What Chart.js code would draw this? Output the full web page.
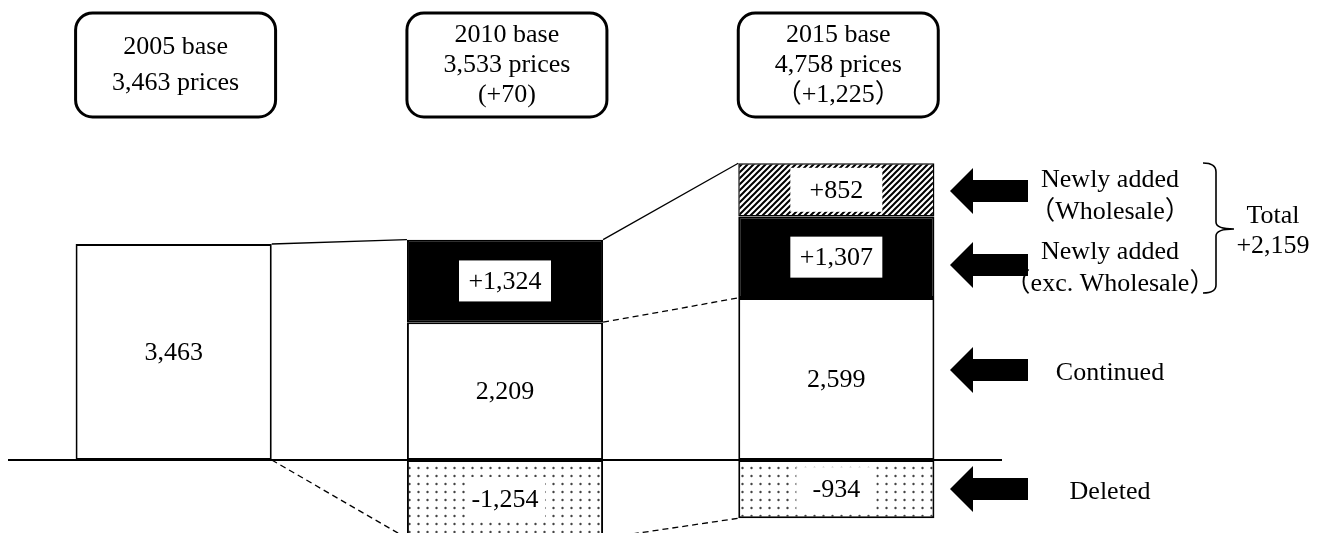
<!DOCTYPE html>
<html>
<head>
<meta charset="utf-8">
<script src="https://cdn.jsdelivr.net/npm/chart.js@4.4.0/dist/chart.umd.min.js"></script>
<style>
  html, body { margin: 0; padding: 0; background: #ffffff; }
  #wrap { width: 1328px; height: 533px; }
</style>
</head>
<body>
<div id="wrap"><canvas id="precos" width="1328" height="533"></canvas></div>
<script>
// data
const bar_labels = ["2005 base", "2010 base", "2015 base"];
const continued = [3463, 2209, 2599];
const added_exc_wholesale = [null, 1324, 1307];
const added_wholesale = [null, null, 852];
const deleted = [null, -1254, -934];

const box_texts = [
  ["2005 base", "3,463 prices"],
  ["2010 base", "3,533 prices", "(+70)"],
  ["2015 base", "4,758 prices", "（+1,225）"],
];
const note_texts = [
  ["Newly added", "（Wholesale）"],
  ["Newly added", "（exc. Wholesale）"],
  ["Continued"],
  ["Deleted"],
];
const total_texts = ["Total", "+2,159"];

const FONT = "26px 'Liberation Serif', 'Times New Roman', 'Noto Sans CJK JP', serif";

const canvas = document.getElementById("precos");
const c2d = canvas.getContext("2d");

function hatchPattern() {
  const t = document.createElement("canvas");
  t.width = 6; t.height = 6;
  const g = t.getContext("2d");
  g.fillStyle = "#fff"; g.fillRect(0, 0, 6, 6);
  g.strokeStyle = "#000"; g.lineWidth = 2;
  g.beginPath();
  g.moveTo(-1, 7); g.lineTo(7, -1);
  g.moveTo(-1, 1); g.lineTo(1, -1);
  g.moveTo(5, 7); g.lineTo(7, 5);
  g.stroke();
  return c2d.createPattern(t, "repeat");
}

function dotPattern() {
  const t = document.createElement("canvas");
  t.width = 9; t.height = 8;
  const g = t.getContext("2d");
  g.fillStyle = "#fff"; g.fillRect(0, 0, 9, 8);
  g.fillStyle = "#444";
  g.beginPath(); g.arc(4.5, 4, 1.2, 0, Math.PI * 2); g.fill();
  return c2d.createPattern(t, "repeat");
}

function roundBox(c, x, y, w, h, r) {
  c.beginPath();
  c.moveTo(x + r, y);
  c.arcTo(x + w, y, x + w, y + h, r);
  c.arcTo(x + w, y + h, x, y + h, r);
  c.arcTo(x, y + h, x, y, r);
  c.arcTo(x, y, x + w, y, r);
  c.closePath();
}

function leftArrow(c, tipX, cy) {
  c.beginPath();
  c.moveTo(tipX, cy);
  c.lineTo(tipX + 23, cy - 23);
  c.lineTo(tipX + 23, cy - 11);
  c.lineTo(tipX + 78, cy - 11);
  c.lineTo(tipX + 78, cy + 11);
  c.lineTo(tipX + 23, cy + 11);
  c.lineTo(tipX + 23, cy + 23);
  c.closePath();
  c.fill();
}

function fmt(v, sign) {
  const s = Math.abs(v).toLocaleString("en-US");
  if (v < 0) return "-" + s;
  return sign ? "+" + s : s;
}

const decor = {
  id: "decor",
  afterDatasetsDraw(chart) {
    const c = chart.ctx;
    const area = chart.chartArea;
    const y = chart.scales.y;
    const zero = y.getPixelForValue(0);
    const bars = chart.getDatasetMeta(0).data;
    const edge = bars.map((el) => ({ l: el.x - el.width / 2, r: el.x + el.width / 2 }));
    const tops = continued.map((v, i) => y.getPixelForValue(v + (added_exc_wholesale[i] || 0) + (added_wholesale[i] || 0)));
    const mids = continued.map((v) => y.getPixelForValue(v));
    const bottoms = deleted.map((v) => y.getPixelForValue(v || 0));

    c.save();
    // baseline
    c.strokeStyle = "#000";
    c.lineWidth = 2;
    c.beginPath();
    c.moveTo(area.left, zero);
    c.lineTo(area.right, zero);
    c.stroke();

    // connectors between bars
    c.lineWidth = 1.3;
    c.beginPath();
    c.moveTo(edge[0].r, tops[0]); c.lineTo(edge[1].l, tops[1]);
    c.moveTo(edge[1].r, tops[1]); c.lineTo(edge[2].l, tops[2]);
    c.stroke();
    c.setLineDash([6, 4]);
    c.beginPath();
    c.moveTo(edge[0].r, zero); c.lineTo(edge[1].l, bottoms[1]);
    c.moveTo(edge[1].r, mids[1]); c.lineTo(edge[2].l, mids[2]);
    c.moveTo(edge[1].r, bottoms[1]); c.lineTo(edge[2].l, bottoms[2]);
    c.stroke();
    c.setLineDash([]);

    // segment labels
    c.font = FONT;
    c.textAlign = "center";
    c.textBaseline = "middle";
    chart.data.datasets.forEach((ds, d) => {
      const meta = chart.getDatasetMeta(d);
      ds.data.forEach((v, i) => {
        if (v === null) return;
        const el = meta.data[i];
        const cy = (el.y + el.base) / 2;
        const txt = fmt(v, d > 0);
        if (d > 0) {
          const bw = d === 3 ? 80 : 92;
          const bh = d === 2 ? 44 : d === 3 ? 44 : 41;
          c.fillStyle = "#fff";
          c.fillRect(el.x - bw / 2, cy - bh / 2, bw, bh);
        }
        c.fillStyle = "#000";
        c.fillText(txt, el.x, cy + 1);
      });
    });

    // header boxes
    box_texts.forEach((lines, i) => {
      const bx = edge[i].l;
      const bw = 200;
      c.lineWidth = 3;
      c.strokeStyle = "#000";
      roundBox(c, bx, 13, bw, 104, 17);
      c.stroke();
      const gap = lines.length === 2 ? 36 : 30;
      const start = 65 - (gap * (lines.length - 1)) / 2;
      c.fillStyle = "#000";
      lines.forEach((t, k) => c.fillText(t, bx + bw / 2, start + k * gap));
    });

    // arrows and notes on the right
    const arrow_y = [191, 265, 370, 489];
    const note_y = [[180, 212], [252, 284], [373], [492]];
    note_texts.forEach((lines, i) => {
      leftArrow(c, 950, arrow_y[i]);
      lines.forEach((t, k) => c.fillText(t, 1110, note_y[i][k]));
    });

    // brace and total
    c.lineWidth = 1.6;
    c.beginPath();
    c.moveTo(1203, 163);
    c.quadraticCurveTo(1216, 163, 1216, 172);
    c.lineTo(1216, 222);
    c.quadraticCurveTo(1216, 229, 1234, 229);
    c.moveTo(1234, 229);
    c.quadraticCurveTo(1216, 229, 1216, 236);
    c.lineTo(1216, 285);
    c.quadraticCurveTo(1216, 293, 1203, 293);
    c.stroke();
    c.fillText(total_texts[0], 1273, 216);
    c.fillText(total_texts[1], 1273, 246);
    c.restore();
  },
};

new Chart(canvas, {
  type: "bar",
  data: {
    labels: bar_labels,
    datasets: [
      {
        label: "Continued",
        data: continued,
        backgroundColor: "#FFFFFF",
        borderColor: "#000000",
        borderWidth: 2,
        borderSkipped: false,
      },
      {
        label: "Newly added (exc. Wholesale)",
        data: added_exc_wholesale,
        backgroundColor: "#000000",
        borderColor: "#000000",
        borderWidth: 2,
        borderSkipped: false,
      },
      {
        label: "Newly added (Wholesale)",
        data: added_wholesale,
        backgroundColor: hatchPattern(),
        borderColor: "#000000",
        borderWidth: 1.5,
        borderSkipped: false,
      },
      {
        label: "Deleted",
        data: deleted,
        backgroundColor: dotPattern(),
        borderColor: "#000000",
        borderWidth: 2,
        borderSkipped: false,
      },
    ],
  },
  options: {
    responsive: false,
    animation: false,
    layout: { padding: { left: 8, right: 326, top: 0, bottom: 0 } },
    datasets: { bar: { barPercentage: 0.592, categoryPercentage: 1 } },
    scales: {
      x: { stacked: true, display: false },
      y: { stacked: true, display: false, min: -1170, max: 7375 },
    },
    plugins: {
      legend: { display: false },
      tooltip: { enabled: false },
    },
  },
  plugins: [decor],
});
</script>
</body>
</html>
